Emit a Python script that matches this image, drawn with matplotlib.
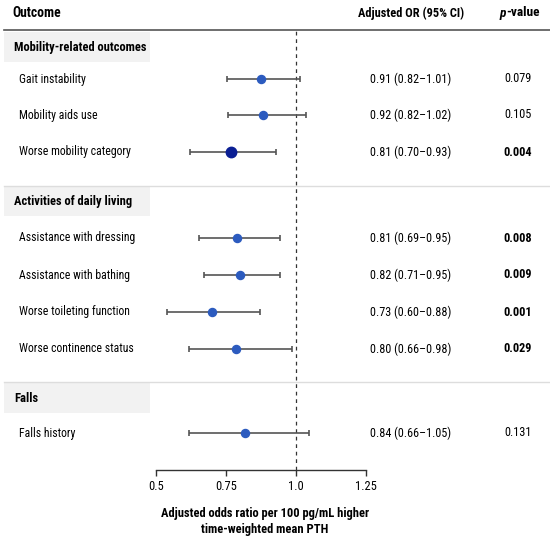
import numpy as np
import matplotlib
matplotlib.use('Agg')
import matplotlib.pyplot as plt
import matplotlib.transforms as mtransforms
from matplotlib.patches import Rectangle

# data
sections = ['Mobility-related outcomes', 'Activities of daily living', 'Falls']
outcomes = ['Gait instability', 'Mobility aids use', 'Worse mobility category',
            'Assistance with dressing', 'Assistance with bathing',
            'Worse toileting function', 'Worse continence status',
            'Falls history']
# plotted positions (as drawn in the figure)
point_est = [0.875, 0.883, 0.768, 0.789, 0.800, 0.700, 0.786, 0.818]
ci_low = [0.754, 0.756, 0.620, 0.654, 0.670, 0.540, 0.617, 0.618]
ci_high = [1.015, 1.035, 0.929, 0.942, 0.942, 0.870, 0.985, 1.046]
or_text = ['0.91 (0.82\u20131.01)', '0.92 (0.82\u20131.02)', '0.81 (0.70\u20130.93)',
           '0.81 (0.69\u20130.95)', '0.82 (0.71\u20130.95)', '0.73 (0.60\u20130.88)',
           '0.80 (0.66\u20130.98)', '0.84 (0.66\u20131.05)']
p_values = [0.079, 0.105, 0.004, 0.008, 0.009, 0.001, 0.029, 0.131]
highlight = [False, False, True, False, False, False, False, False]
xticks = [0.5, 0.75, 1.0, 1.25]
xtick_labels = ['0.5', '0.75', '1.0', '1.25']

plt.rcParams['font.family'] = ['Roboto Condensed', 'Liberation Sans', 'DejaVu Sans']

W, H = 550, 541
fig = plt.figure(figsize=(W/100, H/100), dpi=100)
# forest axes: x from 0.5 (px 156) to 1.25 (px 366), y in pixel rows
ax = fig.add_axes([156/W, (H-470)/H, 210/W, (470-30)/H])
ax.set_xlim(0.5, 1.25)
ax.set_ylim(470, 30)
for s in ['top', 'right', 'left']:
    ax.spines[s].set_visible(False)
ax.spines['bottom'].set_color('#333333')
ax.spines['bottom'].set_linewidth(1.0)
ax.set_yticks([])
ax.set_xticks(xticks)
ax.set_xticklabels(xtick_labels, fontsize=9.0)
ax.tick_params(axis='x', length=4, width=1.0, color='#333333', pad=3)
ax.patch.set_alpha(0)

# x in figure pixels, y in rows
tr = mtransforms.blended_transform_factory(fig.transFigure, ax.transData)
def fx(px):
    return px / W

row_y = [79, 115, 152, 238, 275, 312, 349, 433]
sec_y = [47, 202, 398]
box_top = [32, 186, 383]
sep_y = [186, 382]

ax.axvline(1.0, color='#333333', lw=0.9, ls=(0, (3, 3)), zorder=1)

# header
ax.text(fx(12), 13, 'Outcome', transform=tr, fontsize=9.8, fontweight='bold',
        ha='left', va='center')
ax.text(fx(411), 13, 'Adjusted OR (95% CI)', transform=tr, fontsize=8.9,
        fontweight='bold', ha='center', va='center')
ax.text(fx(506), 13, 'p', transform=tr, fontsize=9.6, fontweight='bold',
        style='italic', ha='right', va='center')
ax.text(fx(506), 13, '-value', transform=tr, fontsize=9.6, fontweight='bold',
        ha='left', va='center')
ax.plot([fx(4), fx(550)], [30, 30], transform=tr, color='#555555', lw=1.2,
        clip_on=False)

for y in sep_y:
    ax.plot([fx(4), fx(550)], [y, y], transform=tr, color='#dddddd', lw=1.0,
            clip_on=False)
for i, name in enumerate(sections):
    ax.add_patch(Rectangle((fx(4), box_top[i]), fx(146), 30, transform=tr,
                           facecolor='#f2f2f2', edgecolor='none', clip_on=False,
                           zorder=0))
    ax.text(fx(14), sec_y[i], name, transform=tr, fontsize=9.0,
            fontweight='bold', ha='left', va='center')

for i, name in enumerate(outcomes):
    y = row_y[i]
    ax.text(fx(19), y, name, transform=tr, fontsize=8.5, ha='left', va='center')
    ax.errorbar(point_est[i], y, xerr=[[point_est[i]-ci_low[i]], [ci_high[i]-point_est[i]]],
                fmt='none', ecolor='#555555', elinewidth=1.2, capsize=2.3,
                capthick=1.2, zorder=2)
    if highlight[i]:
        ax.plot(point_est[i], y, 'o', color='#0b1f94', ms=7.5, zorder=3)
    else:
        ax.plot(point_est[i], y, 'o', color='#2c5bbf', ms=5.8, zorder=3)
    ax.text(fx(411), y, or_text[i], transform=tr, fontsize=8.7,
            ha='center', va='center')
    ax.text(fx(518), y, '{:.3f}'.format(p_values[i]), transform=tr,
            fontsize=8.8, ha='center', va='center',
            fontweight='bold' if p_values[i] < 0.05 else 'normal')

fig.text(265/W, 1-513/H, 'Adjusted odds ratio per 100 pg/mL higher',
         fontsize=9.0, fontweight='bold', ha='center', va='center')
fig.text(265/W, 1-530/H, 'time-weighted mean PTH',
         fontsize=9.0, fontweight='bold', ha='center', va='center')

fig.savefig('out.png', dpi=100, facecolor='white')
